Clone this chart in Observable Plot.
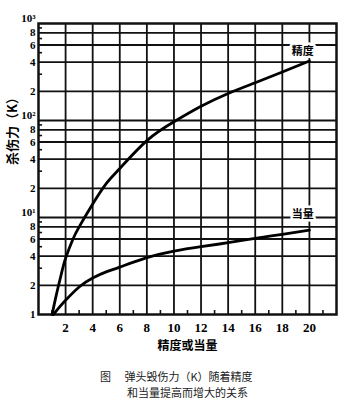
<!DOCTYPE html>
<html><head><meta charset="utf-8">
<script src="https://cdn.jsdelivr.net/npm/d3@7"></script>
<script src="https://cdn.jsdelivr.net/npm/@observablehq/plot@0.6"></script>
<style>
body{margin:0;background:#fff;width:355px;height:405px;overflow:hidden;position:relative;}
#chart{position:absolute;left:0;top:0;}
.cap{position:absolute;font-family:"Noto Sans CJK SC";font-size:11px;color:#222;white-space:pre;line-height:12px;}
</style></head><body>
<div id="chart"></div>
<div class="cap" style="left:100px;top:370px;">图　 弹头毁伤力（K）随着精度</div>
<div class="cap" style="left:127px;top:386px;">和当量提高而增大的关系</div>
<script>
// data
const precisionX = [1, 1.25, 1.5, 1.75, 2, 2.5, 3, 4, 5, 6, 8, 10, 12, 14, 16, 18, 20];
const precisionK = [1, 1.45, 2.05, 2.85, 3.8, 5.8, 8.0, 13.8, 22.4, 32, 62, 97, 140, 190, 245, 316, 410];
const yieldX = [1.1, 1.5, 2, 3, 4, 5, 6, 8, 10, 12, 14, 16, 18, 20];
const yieldK = [1, 1.17, 1.4, 1.92, 2.38, 2.75, 3.08, 3.85, 4.5, 5.0, 5.5, 6.1, 6.7, 7.4];
const seriesNames = ["精度", "当量"];
const seriesLabelX = [19.5, 19.5];
const seriesLabelK = [520, 10.8];
const xTicks = [2, 4, 6, 8, 10, 12, 14, 16, 18, 20];
const xMinor = [1, 3, 5, 7, 9, 11, 13, 15, 17, 19, 21];
const yTicks = [1, 2, 4, 6, 8, 10, 20, 40, 60, 80, 100, 200, 400, 600, 800, 1000];
const yTickLabels = ["1","2","4","6","8","10¹","2","4","6","8","10²","2","4","6","8","10³"];
const yMinor = [3, 5, 7, 9, 30, 50, 70, 90, 300, 500, 700, 900];
const xTitle = "精度或当量";
const yTitle = "杀伤力（K）";

const prec = precisionX.map((x, i) => ({x, k: precisionK[i]}));
const yld = yieldX.map((x, i) => ({x, k: yieldK[i]}));
const labels = seriesNames.map((n, i) => ({n, x: seriesLabelX[i], k: seriesLabelK[i]}));
const yLab = yTicks.map((t, i) => ({t, s: yTickLabels[i]}));
const yLabDecade = yLab.filter(d => d.s.startsWith("10"));
const yLabPlain = yLab.filter(d => !d.s.startsWith("10"));
const numFont = "Liberation Serif";
const cjk = "Noto Sans CJK SC";

const chart = Plot.plot({
  width: 355,
  height: 360,
  marginLeft: 38,
  marginRight: 19,
  marginTop: 23,
  marginBottom: 46,
  style: {background: "#fff", color: "#000"},
  x: {domain: [0, 22], axis: null},
  y: {type: "log", domain: [1, 1000], axis: null},
  marks: [
    Plot.ruleX(xTicks, {stroke: "#111", strokeWidth: 1.8}),
    Plot.ruleY(yTicks.filter(t => t > 1 && t < 1000), {stroke: "#111", strokeWidth: 1.8}),
    Plot.ruleX(xMinor, {y1: 1, y2: 1.1, stroke: "#111", strokeWidth: 1.6}),
    Plot.ruleY(yMinor, {x1: 0, x2: 0.3, stroke: "#111", strokeWidth: 1.6}),
    Plot.frame({stroke: "#111", strokeWidth: 2.5}),
    Plot.line(prec, {x: "x", y: "k", curve: "natural", stroke: "#000", strokeWidth: 2.8}),
    Plot.line(yld, {x: "x", y: "k", curve: "natural", stroke: "#000", strokeWidth: 2.8}),
    Plot.text(labels, {x: "x", y: "k", text: "n", fontFamily: cjk, fontWeight: "bold", fontSize: 11, fill: "#000", stroke: "#fff", strokeWidth: 5}),
    Plot.text(xTicks, {x: d => d, y: 1, text: d => String(d), dy: 13, fontFamily: numFont, fontWeight: "bold", fontSize: 13, fill: "#000"}),
    Plot.text(yLabPlain, {x: 0, y: "t", text: "s", dx: -3, textAnchor: "end", fontFamily: numFont, fontWeight: "bold", fontSize: 11, fill: "#000"}),
    Plot.text(yLabDecade, {x: 0, y: "t", text: "s", dx: -3, dy: -5, textAnchor: "end", fontFamily: numFont, fontWeight: "bold", fontSize: 11, fill: "#000"}),
    Plot.text([xTitle], {frameAnchor: "bottom", dy: 35, fontFamily: cjk, fontWeight: "bold", fontSize: 12, fill: "#000"}),
    Plot.text([yTitle], {frameAnchor: "left", dx: -26, dy: -4, rotate: -90, fontFamily: cjk, fontWeight: "bold", fontSize: 13, fill: "#000"})
  ]
});
document.getElementById("chart").append(chart);
</script>
</body></html>
